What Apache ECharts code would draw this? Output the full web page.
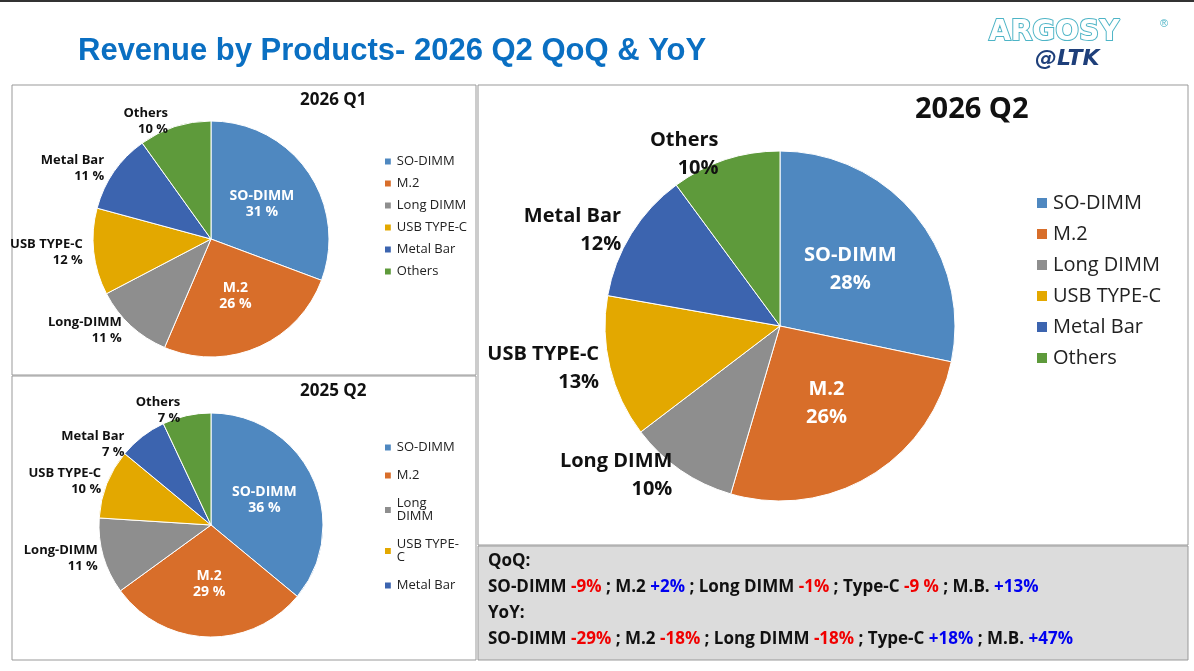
<!DOCTYPE html>
<html>
<head>
<meta charset="utf-8">
<script src="https://cdn.jsdelivr.net/npm/echarts@6/dist/echarts.min.js"></script>
<style>html,body{margin:0;padding:0;background:#fff}#c{width:1194px;height:671px}</style>
</head>
<body>
<div id="c"></div>
<script>
const colors = ['#4F88C0', '#D86E2A', '#8E8E8E', '#E3A800', '#3C64AF', '#5E9A3B'];
const names = ['SO-DIMM', 'M.2', 'Long DIMM', 'USB TYPE-C', 'Metal Bar', 'Others'];
const q1 = [31, 26, 11, 12, 11, 10];
const q2_25 = [36, 29, 11, 10, 7, 7];
const q2_26 = [28, 26, 10, 13, 12, 10];

const mkData = (vals, small) => vals.map((v, i) => ({
  value: v,
  name: names[i],
  label: i < 2
    ? { position: 'inner', color: '#fff', fontSize: small ? 14 : 20 }
    : { position: 'outside', color: '#111', fontSize: small ? 13 : 20 }
}));

const font = '"Open Sans", "DejaVu Sans", sans-serif';
const pie = (vals, center, radius, small, sep) => ({
  type: 'pie', center, radius, startAngle: 90, clockwise: true,
  data: mkData(vals, small), color: colors,
  label: {
    fontWeight: 'bold', fontFamily: font, lineHeight: small ? 16 : 28, align: 'center',
    formatter: p => (small && p.name === 'Long DIMM' ? 'Long-DIMM' : p.name) + '\n' + p.value + sep + '%'
  },
  labelLine: { show: false, length: 6, length2: 0 },
  itemStyle: { borderColor: '#fff', borderWidth: 1 },
  emphasis: { disabled: true }
});

const legend = (left, top, gap, size, data, fmt) => ({
  orient: 'vertical', left, top, itemGap: gap, itemWidth: size * 0.6, itemHeight: size * 0.6,
  data, icon: 'rect', formatter: fmt,
  textStyle: { fontSize: size, color: '#222', fontFamily: font }
});

const chart = echarts.init(document.getElementById('c'));
chart.setOption({
  animation: false,
  legend: [
    legend(378, 150, 9, 13, names),
    legend(378, 436, 15, 13, names.slice(0, 5), n => n === 'Long DIMM' ? 'Long\nDIMM' : n === 'USB TYPE-C' ? 'USB TYPE-\nC' : n),
    legend(1030, 188, 11, 20, names)
  ],
  graphic: [
    { type: 'rect', shape: { x: 0, y: 0, width: 1194, height: 2 }, style: { fill: '#333' } },
    { type: 'rect', shape: { x: 12, y: 85, width: 464, height: 290 }, style: { fill: 'none', stroke: '#999', lineWidth: 1 } },
    { type: 'rect', shape: { x: 12, y: 376, width: 464, height: 284 }, style: { fill: 'none', stroke: '#999', lineWidth: 1 } },
    { type: 'rect', shape: { x: 478, y: 85, width: 710, height: 460 }, style: { fill: 'none', stroke: '#999', lineWidth: 1 } },
    { type: 'rect', shape: { x: 478, y: 546, width: 710, height: 114 }, style: { fill: '#DCDCDC', stroke: '#999', lineWidth: 1 } },
    { type: 'text', left: 78, top: 36, style: { text: 'Revenue by Products- 2026 Q2 QoQ & YoY', fill: '#0A6FC2', font: 'bold 31px Arial, "Liberation Sans", sans-serif' } },
    { type: 'text', left: 988, top: 18, style: { text: 'ARGOSY', fill: '#fff', stroke: '#4DB4C6', lineWidth: 2, font: 'bold 28px "DejaVu Sans", sans-serif', letterSpacing: 3 } },
    { type: 'text', left: 1160, top: 18, style: { text: '®', fill: '#4DB4C6', font: '11px sans-serif' } },
    { type: 'text', left: 1035, top: 48, style: { text: '@LTK', fill: '#1E3F7A', font: 'italic bold 22px "DejaVu Sans", sans-serif' } },
    { type: 'text', left: 300, top: 92, style: { text: '2026 Q1', fill: '#111', font: 'bold 17px ' + font } },
    { type: 'text', left: 300, top: 383, style: { text: '2025 Q2', fill: '#111', font: 'bold 17px ' + font } },
    { type: 'text', left: 915, top: 95, style: { text: '2026 Q2', fill: '#111', font: 'bold 29px ' + font } },
    { type: 'text', left: 488, top: 553, style: {
      text: '{b|QoQ:}\n{b|SO-DIMM }{r|-9%}{b| ; M.2 }{u|+2%}{b| ; Long DIMM }{r|-1%}{b| ; Type-C }{r|-9 %}{b| ; M.B. }{u|+13%}\n{b|YoY:}\n{b|SO-DIMM }{r|-29%}{b| ; M.2 }{r|-18%}{b| ; Long DIMM }{r|-18%}{b| ; Type-C }{u|+18%}{b| ; M.B. }{u|+47%}',
      rich: {
        b: { fill: '#111', font: 'bold 17px ' + font, lineHeight: 26 },
        r: { fill: '#F00000', font: 'bold 17px ' + font, lineHeight: 26 },
        u: { fill: '#0000F0', font: 'bold 17px ' + font, lineHeight: 26 }
      } } }
  ],
  series: [
    pie(q1, [211, 239], 118, true, ' '),
    pie(q2_25, [211, 525], 112, true, ' '),
    pie(q2_26, [780, 326], 175, false, '')
  ]
});
</script>
</body>
</html>
